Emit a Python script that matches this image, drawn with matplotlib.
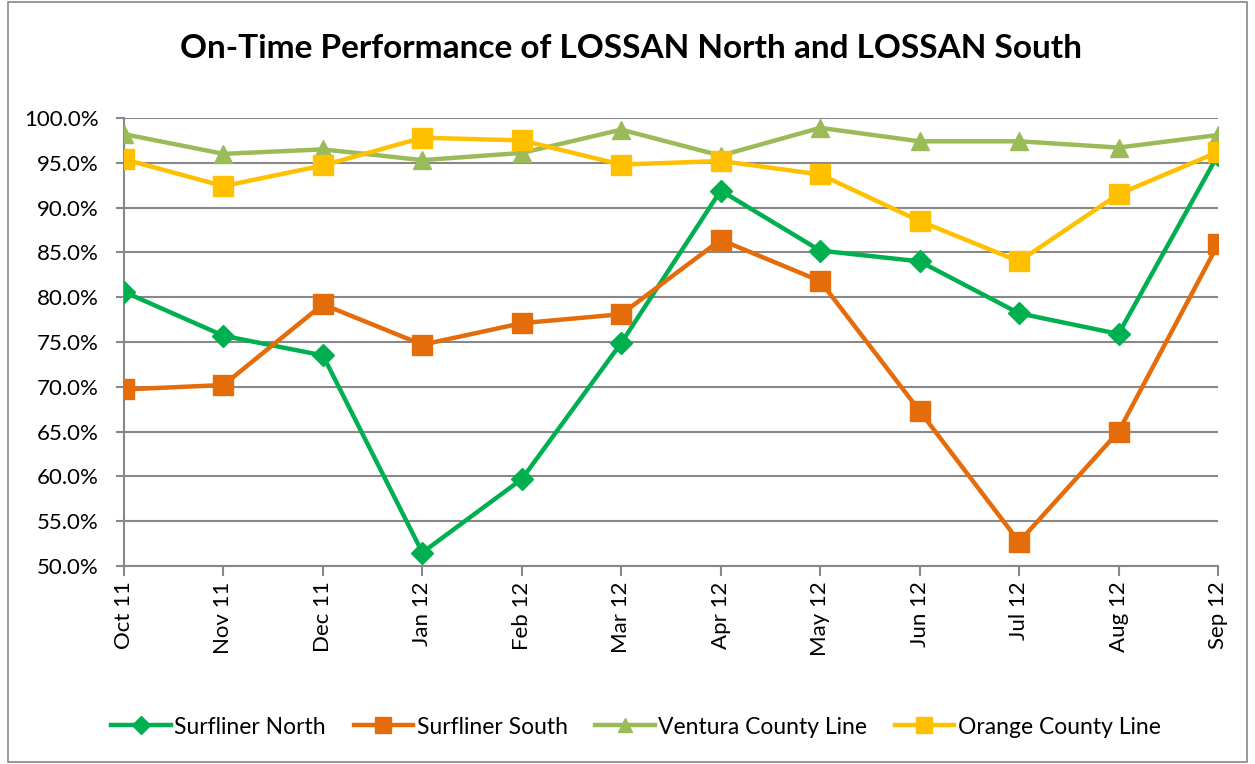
import matplotlib
matplotlib.use("Agg")
import matplotlib.pyplot as plt
from matplotlib.ticker import FuncFormatter, MultipleLocator
from matplotlib.patches import Rectangle

months = ["Oct 11", "Nov 11", "Dec 11", "Jan 12", "Feb 12", "Mar 12",
          "Apr 12", "May 12", "Jun 12", "Jul 12", "Aug 12", "Sep 12"]
surf_north = [80.6, 75.7, 73.5, 51.5, 59.7, 74.9, 91.9, 85.2, 84.0, 78.2, 75.9, 95.9]
surf_south = [69.7, 70.2, 79.2, 74.7, 77.1, 78.1, 86.4, 81.8, 67.3, 52.7, 65.0, 85.9]
ventura = [98.2, 96.0, 96.5, 95.3, 96.1, 98.7, 95.8, 98.9, 97.4, 97.4, 96.7, 98.1]
orange = [95.4, 92.4, 94.7, 97.8, 97.5, 94.8, 95.2, 93.7, 88.5, 84.0, 91.5, 96.2]

series = [
    ("Surfliner North", surf_north, "#00B050", "D", 11),
    ("Surfliner South", surf_south, "#E46C0A", "s", 14),
    ("Ventura County Line", ventura, "#9BBB59", "^", 13),
    ("Orange County Line", orange, "#FFC000", "s", 14),
]

plt.rcParams['font.family'] = ['Lato', 'DejaVu Sans']

fig = plt.figure(figsize=(12.55, 7.64), dpi=100)
ax = fig.add_axes([124/1255, 1-566/764, (1218-124)/1255, (566-118)/764])

x = list(range(len(months)))
for name, vals, col, mk, ms in series:
    ax.plot(x, vals, color=col, lw=3.2, marker=mk, markersize=ms,
            markerfacecolor=col, markeredgecolor=col, label=name, zorder=3)

ax.set_xlim(0, len(months) - 1)
ax.set_ylim(50, 100)
ax.yaxis.set_major_locator(MultipleLocator(5))
ax.yaxis.set_major_formatter(FuncFormatter(lambda v, p: f"{v:.1f}%"))
ax.set_xticks(x)
ax.set_xticklabels(months, rotation=90, fontsize=16)
ax.tick_params(axis='y', labelsize=16, length=6, color='#888888', width=1.5, pad=12)
ax.tick_params(axis='x', length=7, color='#888888', width=1.5, direction='out', pad=4)
ax.grid(axis='y', color='#888888', lw=1.5)
ax.set_axisbelow(True)
for s in ['top', 'right']:
    ax.spines[s].set_visible(False)
for s in ['left', 'bottom']:
    ax.spines[s].set_color('#888888')
    ax.spines[s].set_linewidth(1.5)

fig.text(631/1255, 1-48/764, "On-Time Performance of LOSSAN North and LOSSAN South",
         ha='center', va='center', fontsize=24, fontweight='bold')

leg = fig.legend(loc='center', bbox_to_anchor=(636/1255, 1-727/764), ncol=4,
                 frameon=False, fontsize=16.5, handlelength=2.6, columnspacing=1.2,
                 handletextpad=0.15, markerscale=0.8)

fig.patches.append(Rectangle((8/1255, 0.002), 1-16/1255, 0.996, transform=fig.transFigure,
                             fill=False, edgecolor='#888888', lw=1.2))

fig.savefig("out.png", dpi=100)
